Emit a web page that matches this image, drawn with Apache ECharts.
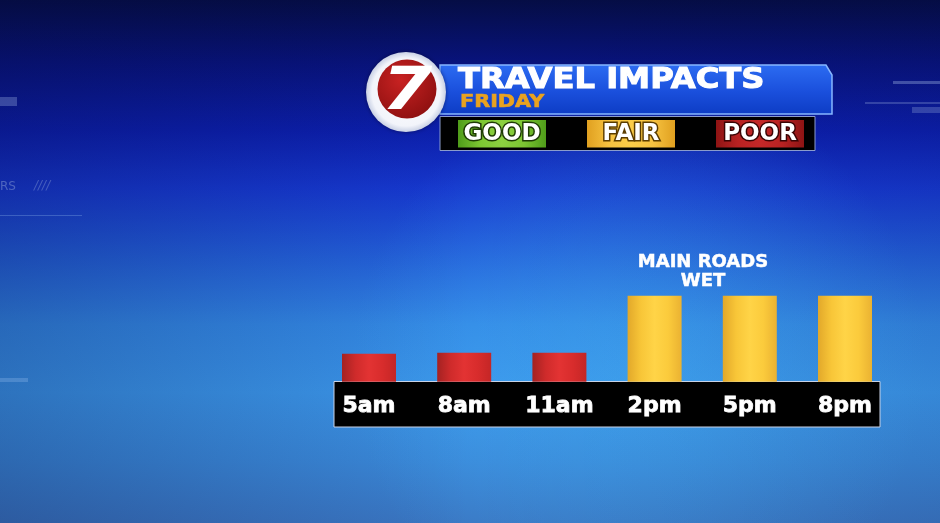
<!DOCTYPE html>
<html>
<head>
<meta charset="utf-8">
<script src="https://cdn.jsdelivr.net/npm/echarts@6/dist/echarts.min.js"></script>
<style>html,body{margin:0;padding:0;background:#0a1a80;}#c{width:940px;height:523px;}</style>
</head>
<body>
<div id="c"></div>
<script>
// ---- data ----
const categories = ['5am', '8am', '11am', '2pm', '5pm', '8pm'];
const impactValues = [28, 29, 29, 86, 86, 86];
const impactLevels = ['POOR', 'POOR', 'POOR', 'FAIR', 'FAIR', 'FAIR'];
const legendLevels = ['GOOD', 'FAIR', 'POOR'];
const titleText = 'TRAVEL IMPACTS';
const subtitleText = 'FRIDAY';
const noteText = 'MAIN ROADS\nWET';

// ---- styles ----
function hGrad(stops) {
  return new echarts.graphic.LinearGradient(0, 0, 1, 0, stops.map((c, i) => ({ offset: i / (stops.length - 1), color: c })));
}
const barFill = {
  POOR: hGrad(['#a42222', '#cf2b2b', '#e33333', '#d82c2c', '#c42626']),
  FAIR: hGrad(['#e2a82a', '#f8c638', '#ffd447', '#fbcb3c', '#eab232']),
  GOOD: hGrad(['#4a9a18', '#6cbc2c', '#86d03c', '#6cbc2c', '#4a9a18'])
};
const legendFill = {
  GOOD: hGrad(['#4f9c1a', '#7cc632', '#8cd040', '#7cc632', '#4f9c1a']),
  FAIR: hGrad(['#e0a020', '#f6c240', '#fbcc48', '#f6c240', '#e0a020']),
  POOR: hGrad(['#8e1414', '#b82222', '#c42828', '#b82222', '#8e1414'])
};
const legendStroke = { GOOD: '#1e3a05', FAIR: '#5a3c00', POOR: '#3a0404' };
const legendX = { GOOD: 458, FAIR: 587, POOR: 716 };

const chart = echarts.init(document.getElementById('c'), null, { renderer: 'canvas' });

const bgGraphics = [
  {
    type: 'rect', z: -100, silent: true,
    shape: { x: 0, y: 0, width: 940, height: 523 },
    style: {
      fill: new echarts.graphic.LinearGradient(0, 0, 0, 1, [
        { offset: 0, color: '#050d45' },
        { offset: 0.12, color: '#08137c' },
        { offset: 0.25, color: '#0c1fac' },
        { offset: 0.36, color: '#1638cf' },
        { offset: 0.5, color: '#2463da' },
        { offset: 0.62, color: '#3388e4' },
        { offset: 0.75, color: '#3b96e9' },
        { offset: 0.88, color: '#3a88d8' },
        { offset: 1, color: '#3a76c2' }
      ])
    }
  },
  {
    type: 'rect', z: -99, silent: true,
    shape: { x: 0, y: 0, width: 940, height: 523 },
    style: {
      fill: new echarts.graphic.RadialGradient(0.68, 0.7, 0.55, [
        { offset: 0, color: 'rgba(70,185,255,0.4)' },
        { offset: 1, color: 'rgba(70,185,255,0)' }
      ])
    }
  },
  {
    type: 'rect', z: -99, silent: true,
    shape: { x: 0, y: 0, width: 940, height: 523 },
    style: {
      fill: new echarts.graphic.LinearGradient(0, 0, 1, 0, [
        { offset: 0, color: 'rgba(5,10,60,0.25)' },
        { offset: 0.5, color: 'rgba(5,10,60,0)' },
        { offset: 1, color: 'rgba(5,10,60,0.1)' }
      ])
    }
  },
  // faint decorative lines
  { type: 'rect', z: -98, silent: true, shape: { x: 0, y: 97, width: 17, height: 9 }, style: { fill: 'rgba(150,170,220,0.35)' } },
  { type: 'rect', z: -98, silent: true, shape: { x: 893, y: 81, width: 47, height: 3 }, style: { fill: 'rgba(150,170,220,0.4)' } },
  { type: 'rect', z: -98, silent: true, shape: { x: 865, y: 102, width: 75, height: 2 }, style: { fill: 'rgba(150,170,220,0.3)' } },
  { type: 'rect', z: -98, silent: true, shape: { x: 912, y: 107, width: 28, height: 6 }, style: { fill: 'rgba(150,170,220,0.3)' } },
  { type: 'rect', z: -98, silent: true, shape: { x: 0, y: 215, width: 82, height: 1 }, style: { fill: 'rgba(150,190,240,0.3)' } },
  { type: 'rect', z: -98, silent: true, shape: { x: 0, y: 378, width: 28, height: 4 }, style: { fill: 'rgba(150,190,240,0.3)' } },
  { type: 'text', z: -98, silent: true, x: 0, y: 181, style: { text: 'RS', fill: 'rgba(150,170,220,0.45)', font: '12px DejaVu Sans' } },
  { type: 'text', z: -98, silent: true, x: 34, y: 180, style: { text: '////', fill: 'rgba(150,170,220,0.4)', font: 'italic 12px DejaVu Sans' } }
];

const headerGraphics = [
  // banner
  {
    type: 'polygon', z: 20, silent: true,
    shape: { points: [[440, 65], [826, 65], [832, 75], [832, 114], [440, 114]] },
    style: {
      fill: new echarts.graphic.LinearGradient(0, 0, 0, 1, [
        { offset: 0, color: '#2c6cf2' },
        { offset: 0.55, color: '#1a4fdc' },
        { offset: 1, color: '#0d3cc4' }
      ]),
      stroke: '#86b6ff', lineWidth: 1.5
    }
  },
  {
    type: 'text', z: 22, silent: true, x: 458, y: 81, scaleX: 1.15,
    style: { text: titleText, fill: '#ffffff', font: 'bold 28px "DejaVu Sans"', textVerticalAlign: 'middle', textAlign: 'left',
      stroke: '#ffffff', lineWidth: 1,
      shadowColor: 'rgba(0,0,30,0.6)', shadowBlur: 2, shadowOffsetX: 1, shadowOffsetY: 1 }
  },
  {
    type: 'text', z: 22, silent: true, x: 460, y: 103, scaleX: 1.22,
    style: { text: subtitleText, fill: '#e9a21f', font: 'bold 17px "DejaVu Sans"', textVerticalAlign: 'middle', textAlign: 'left',
      stroke: '#e9a21f', lineWidth: 0.6 }
  },
  // legend box
  {
    type: 'rect', z: 21, silent: true,
    shape: { x: 440, y: 116.5, width: 375, height: 34 },
    style: { fill: '#000000', stroke: '#8a9ccc', lineWidth: 1 }
  },
  // logo
  {
    type: 'circle', z: 25, silent: true,
    shape: { cx: 406, cy: 92, r: 40 },
    style: {
      fill: new echarts.graphic.RadialGradient(0.5, 0.5, 0.5, [
        { offset: 0, color: '#ffffff' },
        { offset: 0.85, color: '#f2f4fa' },
        { offset: 1, color: '#c8d0e4' }
      ]),
      shadowColor: 'rgba(0,0,40,0.5)', shadowBlur: 4
    }
  },
  {
    type: 'circle', z: 26, silent: true,
    shape: { cx: 407, cy: 89, r: 29.5 },
    style: {
      fill: new echarts.graphic.RadialGradient(0.4, 0.35, 0.7, [
        { offset: 0, color: '#c82222' },
        { offset: 1, color: '#8e1010' }
      ])
    }
  },
  {
    type: 'text', z: 27, silent: true, x: 407, y: 94, scaleX: 1.25,
    style: { text: '7', fill: '#ffffff', font: 'italic bold 58px "DejaVu Sans"', textAlign: 'center', textVerticalAlign: 'middle' }
  }
];

const legendGraphics = [];
legendLevels.forEach(function (lv) {
  legendGraphics.push({
    type: 'rect', z: 22, silent: true,
    shape: { x: legendX[lv], y: 120, width: 88, height: 27.5 },
    style: { fill: legendFill[lv] }
  });
  legendGraphics.push({
    type: 'text', z: 23, silent: true, x: legendX[lv] + 44, y: 134.5,
    style: { text: lv, fill: '#ffffff', font: 'bold 23px "DejaVu Sans"', textAlign: 'center', textVerticalAlign: 'middle',
      stroke: legendStroke[lv], lineWidth: 3 }
  });
});

const chartGraphics = [
  {
    type: 'rect', z: 1, silent: true,
    shape: { x: 334, y: 381.5, width: 546, height: 45.5 },
    style: { fill: '#000000', stroke: '#c8d2e6', lineWidth: 1 }
  },
  {
    type: 'text', z: 5, silent: true, x: 703, y: 272,
    style: { text: noteText, fill: '#ffffff', font: 'bold 18px "DejaVu Sans"', lineHeight: 19, textAlign: 'center', textVerticalAlign: 'middle',
      stroke: '#ffffff', lineWidth: 0.5,
      shadowColor: 'rgba(0,0,40,0.6)', shadowBlur: 2, shadowOffsetX: 1, shadowOffsetY: 1 }
  }
];

chart.setOption({
  animation: false,
  grid: { left: 321.4, right: 47.4, top: 281.7, bottom: 141.3, containLabel: false },
  xAxis: {
    type: 'category', data: categories, z: 10,
    axisLine: { show: false }, axisTick: { show: false }, splitLine: { show: false },
    axisLabel: { color: '#ffffff', fontFamily: 'DejaVu Sans', fontWeight: 'bold', fontSize: 22, margin: 14,
      textBorderColor: '#ffffff', textBorderWidth: 0.8 }
  },
  yAxis: { type: 'value', min: 0, max: 100, show: false, splitLine: { show: false } },
  series: [{
    type: 'bar', barWidth: 54, z: 3,
    data: impactValues.map(function (v, i) {
      return { value: v, itemStyle: { color: barFill[impactLevels[i]] } };
    })
  }],
  graphic: { elements: bgGraphics.concat(chartGraphics, headerGraphics, legendGraphics) }
});
</script>
</body>
</html>
